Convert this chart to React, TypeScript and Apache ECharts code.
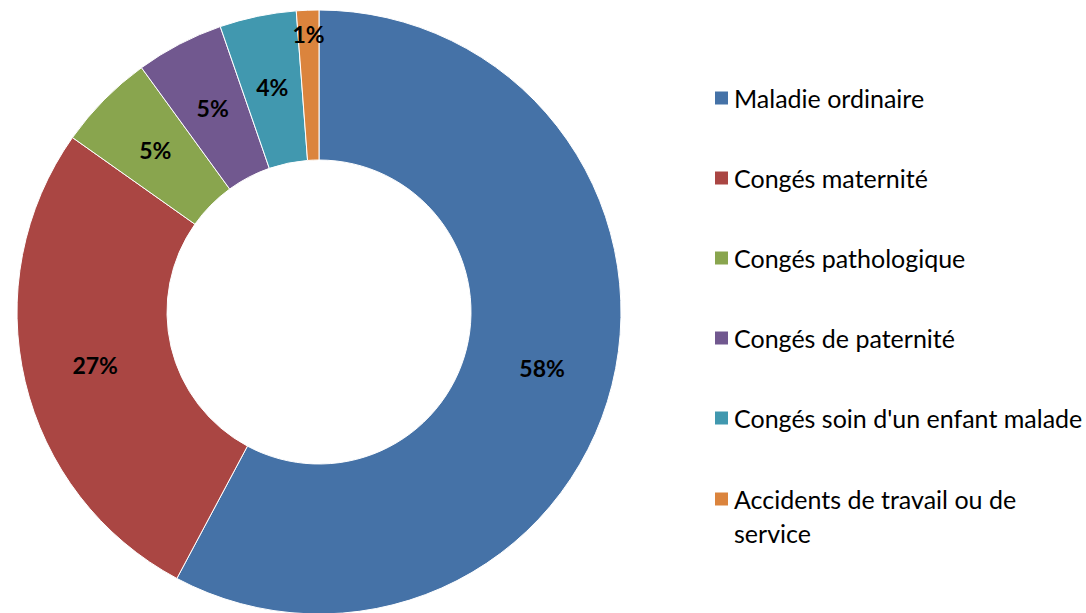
import React, { useEffect, useRef } from "react";
import * as echarts from "echarts";

const categories = [
  "Maladie ordinaire",
  "Congés maternité",
  "Congés pathologique",
  "Congés de paternité",
  "Congés soin d'un enfant malade",
  "Accidents de travail ou de service",
];
const values = [57.8, 27.0, 5.2, 4.7, 4.1, 1.2];
const percentLabels = ["58%", "27%", "5%", "5%", "4%", "1%"];
const colors = ["#4572A7", "#AA4643", "#89A54E", "#71588F", "#4198AF", "#DB843D"];
// which labels sit near the outer edge instead of mid-ring
const outerLabel = [false, false, false, false, false, true];
// legend line breaks for long names
const legendLines: Record<string, string[]> = {
  "Accidents de travail ou de service": ["Accidents de travail ou de", "service"],
};

const FONT = "Lato, 'Noto Sans', sans-serif";

export default function App() {
  const ref = useRef<HTMLDivElement>(null);
  useEffect(() => {
    if (!ref.current) return;
    const chart = echarts.init(ref.current, undefined, { renderer: "svg" });
    const center = [319, 312];
    const baseLegend = {
      orient: "vertical",
      left: 713,
      height: 900,
      padding: 0,
      itemWidth: 15,
      itemHeight: 15,
      itemGap: 46,
      icon: "rect",
      selectedMode: false,
      textStyle: {
        fontFamily: FONT,
        fontSize: 25,
        color: "#000",
        lineHeight: 34,
        rich: {
          p: { fontFamily: FONT, fontSize: 25, lineHeight: 34 },
          t: { fontFamily: FONT, fontSize: 25, lineHeight: 34, color: "#000" },
        },
      },
      formatter: (name: string) => {
        const lines = legendLines[name];
        if (!lines) return name;
        // empty first line keeps the icon level with the first text line
        return ["{p| }", ...lines.map((l) => `{t|${l}}`)].join("\n");
      },
    };
    chart.setOption({
      animation: false,
      color: colors,
      legend: [
        { ...baseLegend, top: 81, data: categories.filter((c) => !legendLines[c]) },
        { ...baseLegend, top: 448, data: categories.filter((c) => legendLines[c]) },
      ],
      series: [
        {
          type: "pie",
          center,
          radius: [152, 302],
          startAngle: 90,
          clockwise: true,
          silent: true,
          itemStyle: { borderColor: "#ffffff", borderWidth: 1 },
          label: {
            show: true,
            position: "inside",
            fontFamily: FONT,
            fontSize: 23,
            fontWeight: "bold",
            color: "#000",
            formatter: (p: any) => (outerLabel[p.dataIndex] ? "" : percentLabels[p.dataIndex]),
          },
          labelLine: { show: false },
          data: categories.map((c, i) => ({ name: c, value: values[i] })),
        },
        {
          type: "pie",
          center,
          radius: [250, 300],
          startAngle: 90,
          clockwise: true,
          silent: true,
          z: 5,
          itemStyle: { color: "rgba(0,0,0,0)", borderWidth: 0 },
          label: {
            show: true,
            position: "inside",
            fontFamily: FONT,
            fontSize: 23,
            fontWeight: "bold",
            color: "#000",
            formatter: (p: any) => (outerLabel[p.dataIndex] ? percentLabels[p.dataIndex] : ""),
          },
          labelLine: { show: false },
          data: categories.map((c, i) => ({ name: c, value: values[i] })),
        },
      ],
    });
    return () => chart.dispose();
  }, []);
  return (
    <div
      ref={ref}
      style={{ position: "fixed", left: 0, top: 0, width: 1086, height: 613, background: "#fff" }}
    />
  );
}
